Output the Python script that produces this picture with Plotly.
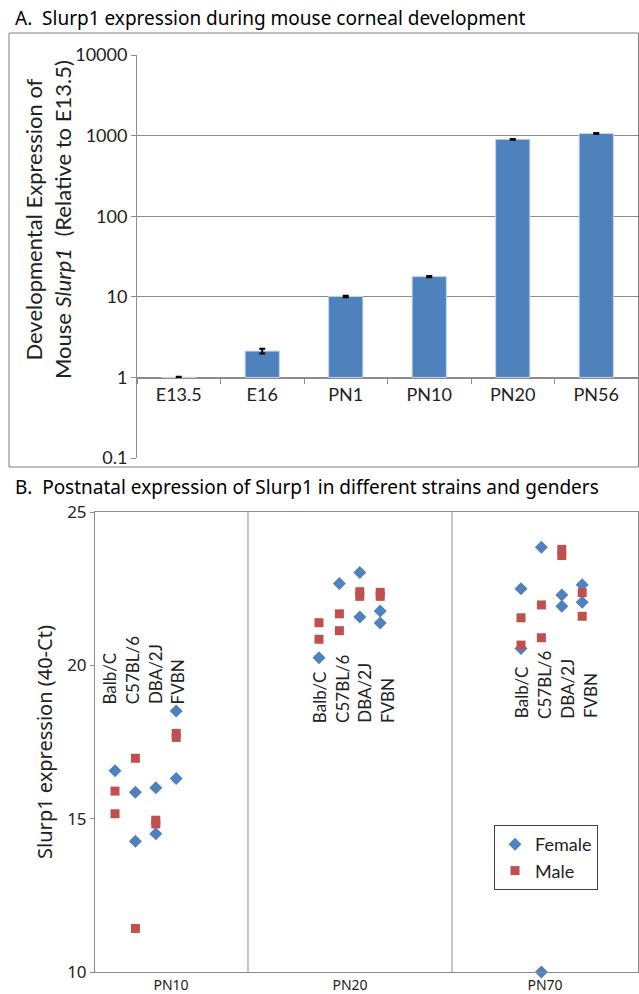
import plotly.graph_objects as go

# ---------------- Panel A data ----------------
stages = ["E13.5", "E16", "PN1", "PN10", "PN20", "PN56"]
rel_expr = [1.0, 2.12, 10.1, 17.8, 900, 1060]
rel_err = [0.02, 0.14, 0.2, 0.3, 10, 15]
a_ticks = [0.1, 1, 10, 100, 1000, 10000]

# ---------------- Panel B data ----------------
ages = ["PN10", "PN20", "PN70"]
strains = ["Balb/C", "C57BL/6", "DBA/2J", "FVBN"]

female_age = ["PN10", "PN10", "PN10", "PN10", "PN10", "PN10", "PN10",
              "PN20", "PN20", "PN20", "PN20", "PN20", "PN20",
              "PN70", "PN70", "PN70", "PN70", "PN70", "PN70", "PN70", "PN70"]
female_strain = ["Balb/C", "C57BL/6", "C57BL/6", "DBA/2J", "DBA/2J", "FVBN", "FVBN",
                 "Balb/C", "C57BL/6", "DBA/2J", "DBA/2J", "FVBN", "FVBN",
                 "Balb/C", "Balb/C", "C57BL/6", "C57BL/6", "DBA/2J", "DBA/2J", "FVBN", "FVBN"]
female_value = [16.56, 15.86, 14.26, 16.01, 14.51, 18.51, 16.31,
                20.25, 22.67, 23.03, 21.58, 21.77, 21.38,
                22.50, 20.55, 23.85, 10.0, 22.29, 21.93, 22.63, 22.06]

male_age = ["PN10"] * 8 + ["PN20"] * 8 + ["PN70"] * 8
male_strain = ["Balb/C", "Balb/C", "C57BL/6", "C57BL/6", "DBA/2J", "DBA/2J", "FVBN", "FVBN"] * 3
male_value = [15.90, 15.16, 16.97, 11.42, 14.95, 14.83, 17.78, 17.65,
              21.39, 20.85, 21.68, 21.13, 22.40, 22.25, 22.38, 22.25,
              21.55, 20.66, 21.97, 20.90, 23.78, 23.58, 22.37, 21.60]

b_yticks = [10, 15, 20, 25]

# ---------------- layout constants ----------------
W, H = 639, 994
BLUE = "#4F81BD"
RED = "#C0504D"
GRID = "#8c8c8c"
CAL = "Lato, 'Liberation Sans', sans-serif"
MYR = "'Noto Sans', 'Open Sans', sans-serif"

def px(x):
    return x / W

def py(y):
    return 1 - y / H

# panel B horizontal positions (x units of the scatter axis)
group_start = {"PN10": 1.0, "PN20": 11.2, "PN70": 21.3}
group_label_start = {"PN10": 0.72, "PN20": 11.2, "PN70": 21.33}
label_bottom = {"PN10": 18.67, "PN20": 18.05, "PN70": 18.2}
group_center = {"PN10": 3.8, "PN20": 12.75, "PN70": 22.5}
dividers = [7.65, 17.85]
col_step = 1.02
lab_step = 1.14

def xpos(age, strain):
    return group_start[age] + strains.index(strain) * col_step

fig = go.Figure()

# Panel A bars (drawn from base 1 on the log axis)
fig.add_trace(go.Bar(
    x=stages, y=[v - 1 for v in rel_expr], base=[1] * len(rel_expr),
    width=0.41, marker=dict(color=BLUE, line=dict(color="#c6d6ea", width=1)),
    xaxis="x", yaxis="y", showlegend=False, hoverinfo="skip"))
fig.add_trace(go.Scatter(
    x=stages, y=rel_expr, mode="markers", marker=dict(opacity=0, size=1),
    error_y=dict(type="data", array=rel_err, color="black", thickness=2, width=3),
    xaxis="x", yaxis="y", showlegend=False, hoverinfo="skip"))

# Panel B scatter
fig.add_trace(go.Scatter(
    x=[xpos(a, s) for a, s in zip(female_age, female_strain)], y=female_value,
    mode="markers", name="Female",
    marker=dict(symbol="diamond", size=10, color=BLUE),
    xaxis="x2", yaxis="y2", cliponaxis=False))
fig.add_trace(go.Scatter(
    x=[xpos(a, s) for a, s in zip(male_age, male_strain)], y=male_value,
    mode="markers", name="Male",
    marker=dict(symbol="square", size=9, color=RED),
    xaxis="x2", yaxis="y2", cliponaxis=False))

annotations = [
    dict(text="A.  Slurp1 expression during mouse corneal development",
         x=px(13), y=py(18), xref="paper", yref="paper", xanchor="left", yanchor="middle",
         showarrow=False, font=dict(family=MYR, size=19, color="black")),
    dict(text="B.  Postnatal expression of Slurp1 in different strains and genders",
         x=px(13), y=py(487), xref="paper", yref="paper", xanchor="left", yanchor="middle",
         showarrow=False, font=dict(family=MYR, size=19, color="black")),
    dict(text="Developmental Expression of<br>Mouse <i>Slurp1</i>  (Relative to E13.5)",
         x=px(48), y=py(220), xref="paper", yref="paper", xanchor="center", yanchor="middle",
         textangle=-90, showarrow=False, font=dict(family=CAL, size=22, color="#222")),
]
for age in ages:
    for i, s in enumerate(strains):
        annotations.append(dict(
            text=s, x=group_label_start[age] + i * lab_step, y=label_bottom[age],
            xref="x2", yref="y2", xanchor="center", yanchor="bottom", textangle=-90,
            showarrow=False, font=dict(family=CAL, size=17, color="#222")))

shapes = [
    dict(type="rect", xref="paper", yref="paper", x0=px(9), x1=px(638.5), y0=py(467), y1=py(33),
         line=dict(color="#7f7f7f", width=1)),
]
for d in dividers:
    shapes.append(dict(type="line", xref="x2", yref="y2 domain", x0=d, x1=d, y0=0, y1=1,
                       line=dict(color=GRID, width=1)))

fig.update_layout(
    width=W, height=H, margin=dict(l=0, r=0, t=0, b=0, autoexpand=False),
    paper_bgcolor="white", plot_bgcolor="white",
    annotations=annotations, shapes=shapes,
    xaxis=dict(domain=[px(137), px(638)], type="category", categoryorder="array",
               categoryarray=stages, range=[-0.5, 5.5], anchor="free", position=py(378),
               showline=True, linecolor=GRID, linewidth=1, ticks="outside", tickson="boundaries",
               ticklen=5, tickcolor=GRID, showgrid=False, automargin=False,
               tickfont=dict(family=CAL, size=18, color="#222")),
    yaxis=dict(domain=[py(458), py(55)], type="log", range=[-1, 4], anchor="x",
               tickvals=a_ticks, ticktext=[f"{t:g}" for t in a_ticks],
               showline=True, linecolor=GRID, linewidth=1, ticks="outside", ticklen=5,
               tickcolor=GRID, showgrid=True, gridcolor=GRID, gridwidth=1, automargin=False,
               tickfont=dict(family=CAL, size=18, color="#222")),
    xaxis2=dict(domain=[px(95), px(638)], range=[0, 27.15], anchor="y2",
                tickvals=[group_center[a] for a in ages], ticktext=ages, ticks="",
                showline=True, linecolor=GRID, linewidth=1, mirror=True, showgrid=False,
                zeroline=False, automargin=False, tickfont=dict(family=MYR, size=14, color="#222")),
    yaxis2=dict(domain=[py(972), py(512)], range=[10, 25], anchor="x2",
                tickvals=b_yticks, ticks="outside", ticklen=4, tickcolor=GRID,
                showline=True, linecolor=GRID, linewidth=1, mirror=True, showgrid=False,
                zeroline=False, automargin=False, tickfont=dict(family=MYR, size=17, color="#222"),
                title=dict(text="Slurp1 expression (40-Ct)", standoff=9,
                           font=dict(family=MYR, size=20, color="#222"))),
    legend=dict(x=px(494), y=py(825), xanchor="left", yanchor="top",
                bordercolor="#404040", borderwidth=1, bgcolor="white",
                font=dict(family=CAL, size=18, color="#222"), tracegroupgap=0),
)

fig.write_html(
    "out.html",
    config={"displayModeBar": False},
    post_script="document.body.style.margin='0';document.body.style.overflow='hidden';",
)
